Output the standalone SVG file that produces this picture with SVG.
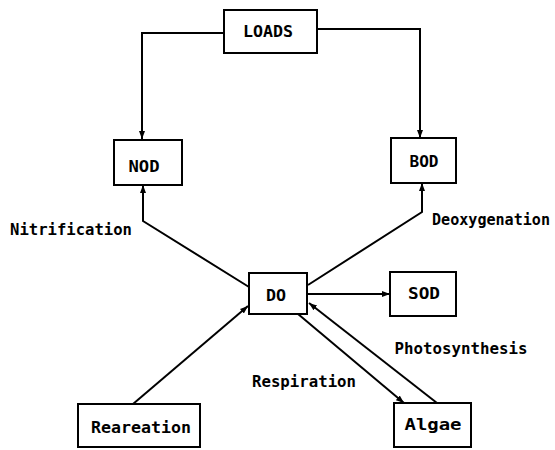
<svg xmlns="http://www.w3.org/2000/svg" width="555" height="450" viewBox="0 0 555 450">
<style>
.box{fill:#fff;stroke:#000;stroke-width:2}
.t{font-family:"DejaVu Sans Mono","Liberation Mono",monospace;font-weight:bold;font-size:15px;fill:#000;text-anchor:middle;dominant-baseline:central}
.c{fill:none;stroke:#000;stroke-width:2}
</style>
<defs>
<marker id="ah" markerUnits="userSpaceOnUse" markerWidth="8" markerHeight="8" viewBox="0 0 8 8" refX="8" refY="4" orient="auto">
<path d="M0,1 L8,4 L0,7 Z" fill="#000"/>
</marker>
</defs>
<rect width="555" height="450" fill="#fff"/>
<g id="connectors">
<path class="c" d="M224,33 H142 V139" marker-end="url(#ah)"/>
<path class="c" d="M317,29 H420 V138" marker-end="url(#ah)"/>
<path class="c" d="M249,287 L143,221 V185" marker-end="url(#ah)"/>
<path class="c" d="M308,285 L422,212 V183" marker-end="url(#ah)"/>
<path class="c" d="M307,294 H390" marker-end="url(#ah)"/>
<path class="c" d="M133,404 L248,306" marker-end="url(#ah)"/>
<path class="c" d="M298,314 L404,403" marker-end="url(#ah)"/>
<path class="c" d="M437,403 L309,303" marker-end="url(#ah)"/>
</g>
<g id="labels">
<text class="t" x="71" y="230" textLength="122" lengthAdjust="spacingAndGlyphs">Nitrification</text>
<text class="t" x="491" y="220" textLength="118" lengthAdjust="spacingAndGlyphs">Deoxygenation</text>
<text class="t" x="304" y="382" textLength="104" lengthAdjust="spacingAndGlyphs">Respiration</text>
<text class="t" x="461" y="349" textLength="133" lengthAdjust="spacingAndGlyphs">Photosynthesis</text>
</g>
<g id="LOADS"><rect class="box" x="224" y="10" width="93" height="43"/><text class="t" x="268" y="32" textLength="50" lengthAdjust="spacingAndGlyphs">LOADS</text></g>
<g id="NOD"><rect class="box" x="114" y="140" width="68" height="45"/><text class="t" x="144" y="167" textLength="31" lengthAdjust="spacingAndGlyphs">NOD</text></g>
<g id="BOD"><rect class="box" x="391" y="138" width="65" height="45"/><text class="t" x="424" y="162" textLength="29" lengthAdjust="spacingAndGlyphs">BOD</text></g>
<g id="DO"><rect class="box" x="249" y="273" width="58" height="41"/><text class="t" x="276" y="296" textLength="20" lengthAdjust="spacingAndGlyphs">DO</text></g>
<g id="SOD"><rect class="box" x="390" y="272" width="66" height="44"/><text class="t" x="424" y="294" textLength="32" lengthAdjust="spacingAndGlyphs">SOD</text></g>
<g id="Reareation"><rect class="box" x="78" y="404" width="122" height="43"/><text class="t" x="141" y="428" textLength="100" lengthAdjust="spacingAndGlyphs">Reareation</text></g>
<g id="Algae"><rect class="box" x="394" y="403" width="77" height="44"/><text class="t" x="433" y="425" textLength="57" lengthAdjust="spacingAndGlyphs">Algae</text></g>
</svg>
